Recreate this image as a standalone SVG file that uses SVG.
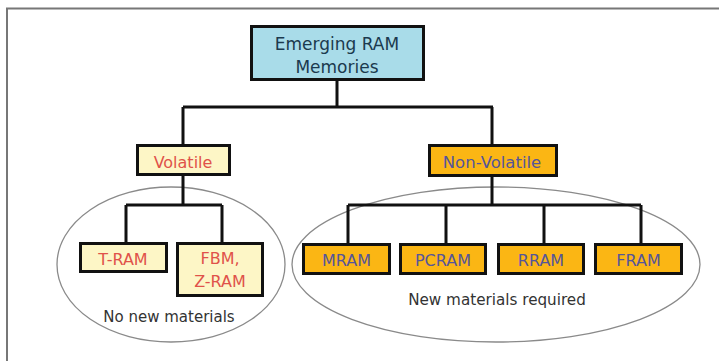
<svg xmlns="http://www.w3.org/2000/svg" width="719" height="361" viewBox="0 0 719 361">
<style>
.box{stroke:#111;stroke-width:3}
.root{fill:#a9dce9}
.vol{fill:#fdf6c6}
.nv{fill:#fbb614}
.t{font-family:"DejaVu Sans",Verdana,sans-serif;font-size:16px;text-anchor:middle}
.tr{fill:#1b3a4e}
.tv{fill:#e0524a}
.tn{fill:#55559a}
.lab{font-family:"DejaVu Sans",Verdana,sans-serif;font-size:15px;text-anchor:middle;fill:#333}
.ell{fill:#fff;stroke:#8a8a8a;stroke-width:1.3}
.con{fill:none;stroke:#111;stroke-width:3}
</style>
<rect width="719" height="361" fill="#fff"/>
<path d="M7,361 V8.5 H719" fill="none" stroke="#777" stroke-width="2"/>
<g id="group-volatile">
<ellipse class="ell" cx="171" cy="264.5" rx="114" ry="77.5"/>
<text class="lab" x="169" y="322">No new materials</text>
</g>
<g id="group-nonvolatile">
<ellipse class="ell" cx="496" cy="264.5" rx="204" ry="77.5"/>
<text class="lab" x="497" y="305" style="font-size:15.2px">New materials required</text>
</g>
<g id="connectors">
<path class="con" d="M337,80 V107 M183,107 H493 M183,107 V144 M492,107 V144"/>
<path class="con" d="M183,175 V205 M126,205 H222 M126,205 V243 M222,205 V243"/>
<path class="con" d="M492,176 V205 M348,205 H641 M348,205 V244 M446,205 V244 M544,205 V244 M641,205 V244"/>
</g>
<g id="root">
<rect class="box root" x="251.5" y="26.5" width="172" height="53"/>
<text class="t tr" x="337" y="50" style="font-size:17px">Emerging RAM</text>
<text class="t tr" x="337" y="73" style="font-size:17px">Memories</text>
</g>
<g id="volatile">
<rect class="box vol" x="137.5" y="145.5" width="92" height="29"/>
<text class="t tv" x="183" y="168">Volatile</text>
</g>
<g id="nonvolatile">
<rect class="box nv" x="429.5" y="145.5" width="127" height="30"/>
<text class="t tn" x="492" y="168" style="font-size:16.5px">Non-Volatile</text>
</g>
<g id="tram">
<rect class="box vol" x="80.5" y="243.5" width="86" height="28"/>
<text class="t tv" x="123" y="265">T-RAM</text>
</g>
<g id="fbm">
<rect class="box vol" x="177.5" y="243.5" width="85" height="52"/>
<text class="t tv" x="220" y="264">FBM,</text>
<text class="t tv" x="220" y="287">Z-RAM</text>
</g>
<g id="mram">
<rect class="box nv" x="303.5" y="244.5" width="86" height="29"/>
<text class="t tn" x="346.5" y="266">MRAM</text>
</g>
<g id="pcram">
<rect class="box nv" x="400.5" y="244.5" width="85" height="29"/>
<text class="t tn" x="443" y="266">PCRAM</text>
</g>
<g id="rram">
<rect class="box nv" x="498.5" y="244.5" width="85" height="29"/>
<text class="t tn" x="541" y="266">RRAM</text>
</g>
<g id="fram">
<rect class="box nv" x="595.5" y="244.5" width="86" height="29"/>
<text class="t tn" x="638.5" y="266">FRAM</text>
</g>
</svg>
